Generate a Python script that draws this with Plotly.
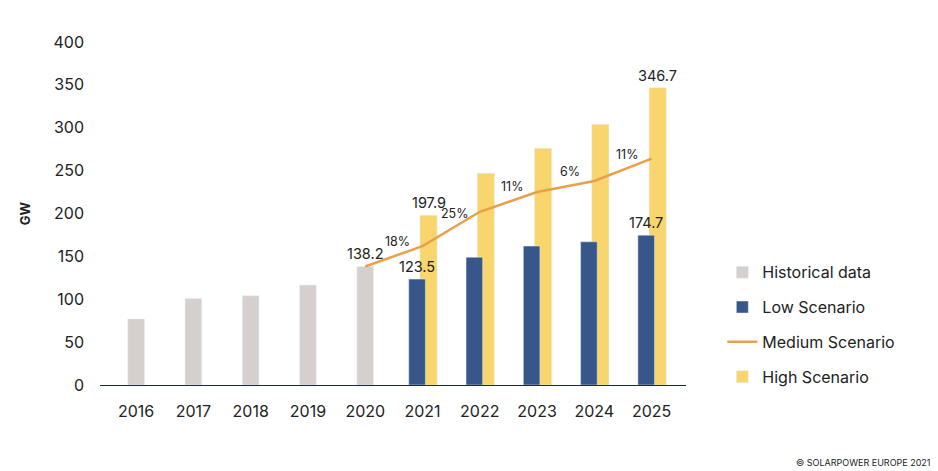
import plotly.graph_objects as go

hist_years = [2016, 2017, 2018, 2019, 2020]
hist_values = [77, 101, 104, 116.5, 138.2]
scen_years = [2021, 2022, 2023, 2024, 2025]
low_values = [123.5, 149, 162, 167, 174.7]
high_values = [197.9, 247, 276, 304, 346.7]
med_years = [2020, 2021, 2022, 2023, 2024, 2025]
med_values = [138.2, 162, 202, 225, 238, 264]
growth_labels = ["18%", "25%", "11%", "6%", "11%"]
x_ticks = list(range(2016, 2026))
y_ticks = [0, 50, 100, 150, 200, 250, 300, 350, 400]

C_HIST = "#d5d0cd"
C_LOW = "#37578a"
C_MED = "#e8a04a"
C_HIGH = "#f9d56e"
FONT = "Inter"
TXT = "#222222"

fig = go.Figure()
fig.add_trace(go.Bar(x=hist_years, y=hist_values, name="Historical data",
                     marker_color=C_HIST, width=0.29, offset=-0.145,
                     legendgroup="a", legendrank=1))
fig.add_trace(go.Bar(x=scen_years, y=high_values, name="High Scenario",
                     marker_color=C_HIGH, width=0.30, offset=-0.045,
                     legendgroup="d", legendrank=4))
fig.add_trace(go.Bar(x=scen_years, y=low_values, name="Low Scenario",
                     marker_color=C_LOW, width=0.29, offset=-0.24,
                     legendgroup="b", legendrank=2))
fig.add_trace(go.Scatter(x=med_years, y=med_values, name="Medium Scenario",
                         mode="lines", line=dict(color=C_MED, width=2.5),
                         legendgroup="c", legendrank=3))

ann = []
def val_label(x, y, text):
    ann.append(dict(x=x, y=y, text=text, showarrow=False, yanchor="bottom",
                    yshift=2, font=dict(size=14.5, color=TXT, family=FONT)))

val_label(hist_years[-1], hist_values[-1], f"{hist_values[-1]}")
val_label(scen_years[0] - 0.1, low_values[0], f"{low_values[0]}")
val_label(scen_years[-1] - 0.1, low_values[-1], f"{low_values[-1]}")
val_label(scen_years[0] + 0.105, high_values[0], f"{high_values[0]}")
val_label(scen_years[-1] + 0.105, high_values[-1], f"{high_values[-1]}")

for i, g in enumerate(growth_labels):
    mx = (med_years[i] + med_years[i + 1]) / 2
    my = (med_values[i] + med_values[i + 1]) / 2
    ann.append(dict(x=mx, y=my, text=g, showarrow=False, xshift=4, yshift=15,
                    font=dict(size=12.5, color=TXT, family=FONT)))

ann.append(dict(xref="paper", yref="paper", x=1.422, y=-0.227, xanchor="right",
                yanchor="middle", text="© SOLARPOWER EUROPE 2021", showarrow=False,
                font=dict(size=9, color=TXT, family=FONT)))

fig.update_layout(
    width=930, height=463,
    margin=dict(l=92, r=252, t=34, b=86),
    paper_bgcolor="white", plot_bgcolor="white",
    barmode="overlay",
    font=dict(family=FONT, color=TXT, size=14),
    showlegend=True,
    legend=dict(x=1.062, y=0.378, xanchor="left", yanchor="top",
                font=dict(size=16, color=TXT, family=FONT),
                tracegroupgap=11, itemwidth=30, bgcolor="rgba(0,0,0,0)"),
    annotations=ann,
    xaxis=dict(range=[2015.37, 2025.6], tickmode="array", tickvals=x_ticks,
               ticktext=[str(v) for v in x_ticks], showgrid=False, zeroline=False,
               showline=False, ticks="", ticklabelstandoff=15,
               tickfont=dict(size=16, color=TXT, family=FONT)),
    yaxis=dict(range=[0, 400], tickmode="array", tickvals=y_ticks, showgrid=False,
               zeroline=True, zerolinecolor="#1b2a3a", zerolinewidth=1.2,
               showline=False, ticks="", ticklabelstandoff=15,
               tickfont=dict(size=16, color=TXT, family=FONT),
               title=dict(text="<b>GW</b>", standoff=19,
                          font=dict(size=13, color=TXT, family=FONT))),
)

fig.write_html("out.html")
